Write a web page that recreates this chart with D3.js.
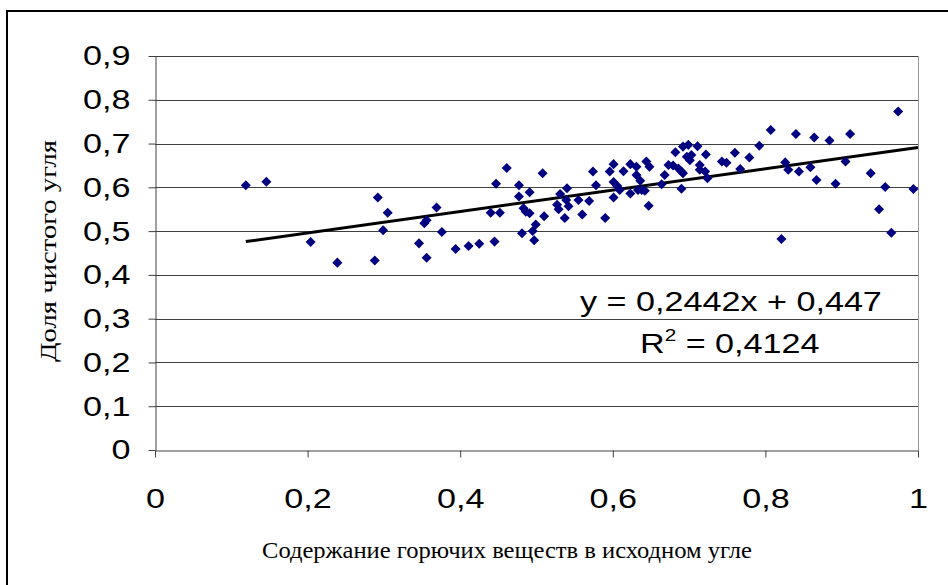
<!DOCTYPE html>
<html>
<head>
<meta charset="utf-8">
<script src="https://cdn.jsdelivr.net/npm/d3@7"></script>
<style>
  body { margin: 0; background: #fff; }
  svg { display: block; }
</style>
</head>
<body>
<svg id="chart" width="948" height="585"></svg>
<script>
// content of combustibles in the source coal (x) vs share of clean coal (y)
const xValues = [
  0.119, 0.146, 0.204, 0.239, 0.288, 0.292, 0.305, 0.299, 0.346, 0.356,
  0.353, 0.356, 0.369, 0.376, 0.394, 0.411, 0.425, 0.445, 0.440, 0.452,
  0.447, 0.461, 0.477, 0.477, 0.491, 0.483, 0.486, 0.491, 0.481, 0.497,
  0.495, 0.499, 0.510, 0.508, 0.529, 0.527, 0.531, 0.540, 0.542, 0.539,
  0.537, 0.555, 0.560, 0.569, 0.574, 0.578, 0.590, 0.601, 0.596, 0.601,
  0.601, 0.606, 0.609, 0.614, 0.623, 0.623, 0.631, 0.631, 0.636, 0.638,
  0.644, 0.648, 0.642, 0.647, 0.664, 0.668, 0.673, 0.679, 0.682, 0.686,
  0.692, 0.690, 0.690, 0.699, 0.697, 0.703, 0.701, 0.711, 0.714, 0.714,
  0.721, 0.724, 0.722, 0.743, 0.749, 0.760, 0.767, 0.779, 0.792, 0.807,
  0.821, 0.826, 0.830, 0.840, 0.844, 0.859, 0.864, 0.867, 0.884, 0.892,
  0.905, 0.911, 0.938, 0.957, 0.949, 0.965, 0.974, 0.994, 0.692, 0.633
];
const yValues = [
  0.605, 0.613, 0.475, 0.428, 0.433, 0.577, 0.542, 0.502, 0.472, 0.439,
  0.518, 0.525, 0.554, 0.498, 0.459, 0.466, 0.471, 0.476, 0.542, 0.542,
  0.608, 0.644, 0.605, 0.579, 0.589, 0.552, 0.544, 0.541, 0.495, 0.479,
  0.500, 0.515, 0.534, 0.632, 0.550, 0.560, 0.585, 0.598, 0.557, 0.571,
  0.530, 0.571, 0.538, 0.569, 0.636, 0.605, 0.530, 0.577, 0.636, 0.653,
  0.612, 0.603, 0.594, 0.637, 0.586, 0.653, 0.647, 0.628, 0.615, 0.594,
  0.659, 0.647, 0.592, 0.558, 0.607, 0.628, 0.651, 0.650, 0.680, 0.643,
  0.693, 0.636, 0.597, 0.697, 0.670, 0.674, 0.662, 0.694, 0.651, 0.640,
  0.636, 0.621, 0.675, 0.659, 0.656, 0.679, 0.642, 0.668, 0.695, 0.731,
  0.482, 0.657, 0.640, 0.722, 0.636, 0.646, 0.714, 0.617, 0.707, 0.608,
  0.659, 0.722, 0.632, 0.601, 0.550, 0.496, 0.773, 0.596, 0.632, 0.594
];
const xTicks = [0, 0.2, 0.4, 0.6, 0.8, 1];
const yTicks = [0, 0.1, 0.2, 0.3, 0.4, 0.5, 0.6, 0.7, 0.8, 0.9];
const trendSlope = 0.2442, trendIntercept = 0.447, rSquared = "0,4124";
const xTitle = "Содержание горючих веществ в исходном угле";
const yTitle = "Доля чистого угля";

const svg = d3.select("#chart");
const plot = {left: 155, right: 918, top: 56, bottom: 450};
const stretch = 1.22;
const sans = "'Liberation Sans', Arial, sans-serif";
const serif = "'Liberation Serif', 'Times New Roman', serif";

const x = d3.scaleLinear().domain([0, 1]).range([plot.left, plot.right]);
const y = d3.scaleLinear().domain([0, 0.9]).range([plot.bottom, plot.top]);

const ru = d3.formatLocale({decimal: ",", thousands: " ", grouping: [3], currency: ["", ""]});
const fmt = ru.format(".1~f");

// outer frame (only top and left edges are in the picture)
svg.append("path")
  .attr("d", "M7,585V11H948")
  .attr("fill", "none")
  .attr("stroke", "#000")
  .attr("stroke-width", 2);

// gridlines
svg.append("g")
  .selectAll("line")
  .data(yTicks.filter(d => d > 0))
  .join("line")
    .attr("x1", plot.left).attr("x2", plot.right)
    .attr("y1", d => Math.round(y(d)) + 0.5)
    .attr("y2", d => Math.round(y(d)) + 0.5)
    .attr("stroke", "#404040")
    .attr("stroke-width", 1);

// right border of plot area
svg.append("line")
  .attr("x1", plot.right + 0.5).attr("x2", plot.right + 0.5)
  .attr("y1", plot.top).attr("y2", plot.bottom)
  .attr("stroke", "#999");

function styleTicks(g) {
  g.select(".domain").attr("stroke", "#404040");
  g.selectAll(".tick line").attr("stroke", "#404040");
  g.selectAll(".tick text")
    .attr("fill", "#000")
    .style("font-family", sans)
    .style("font-size", "28px")
    .each(function() {
      const w = this.getComputedTextLength();
      d3.select(this).attr("textLength", w * stretch).attr("lengthAdjust", "spacingAndGlyphs");
    });
}

svg.append("g")
  .attr("transform", `translate(${plot.left + 0.5},0)`)
  .call(d3.axisLeft(y).tickValues(yTicks).tickFormat(fmt).tickSize(7).tickSizeOuter(0).tickPadding(18))
  .call(styleTicks);

svg.append("g")
  .attr("transform", `translate(0,${plot.bottom + 0.5})`)
  .call(d3.axisBottom(x).tickValues(xTicks).tickFormat(fmt).tickSize(7).tickSizeOuter(0).tickPadding(31))
  .call(styleTicks);

// trendline
const xMin = d3.min(xValues);
svg.append("line")
  .attr("x1", x(xMin)).attr("y1", y(trendSlope * xMin + trendIntercept))
  .attr("x2", x(1)).attr("y2", y(trendSlope * 1 + trendIntercept))
  .attr("stroke", "#000")
  .attr("stroke-width", 3);

// points
const diamond = d3.symbol().type(d3.symbolDiamond2).size(64);
svg.append("g")
  .selectAll("path")
  .data(d3.zip(xValues, yValues))
  .join("path")
    .attr("d", diamond)
    .attr("transform", d => `translate(${x(d[0])},${y(d[1])})`)
    .attr("fill", "#000080");

// equation
const eq = svg.append("g").attr("transform", `translate(580,311) scale(${stretch},1)`);
eq.append("text")
  .style("font-family", sans)
  .style("font-size", "28px")
  .text("y = " + ru.format(".4f")(trendSlope) + "x + " + ru.format(".3f")(trendIntercept));

const r2 = svg.append("g").attr("transform", `translate(640,353) scale(${stretch},1)`);
const r2t = r2.append("text")
  .style("font-family", sans)
  .style("font-size", "28px");
r2t.append("tspan").text("R");
r2t.append("tspan").attr("dy", -12).style("font-size", "17px").text("2");
r2t.append("tspan").attr("dy", 12).text(" = " + rSquared);

// axis titles
svg.append("text")
  .attr("x", 507).attr("y", 558)
  .attr("text-anchor", "middle")
  .attr("textLength", 490).attr("lengthAdjust", "spacingAndGlyphs")
  .style("font-family", serif)
  .style("font-size", "24px")
  .text(xTitle);

svg.append("text")
  .attr("transform", "translate(56,251) rotate(-90)")
  .attr("text-anchor", "middle")
  .attr("textLength", 222).attr("lengthAdjust", "spacingAndGlyphs")
  .style("font-family", serif)
  .style("font-size", "24px")
  .text(yTitle);
</script>
</body>
</html>
